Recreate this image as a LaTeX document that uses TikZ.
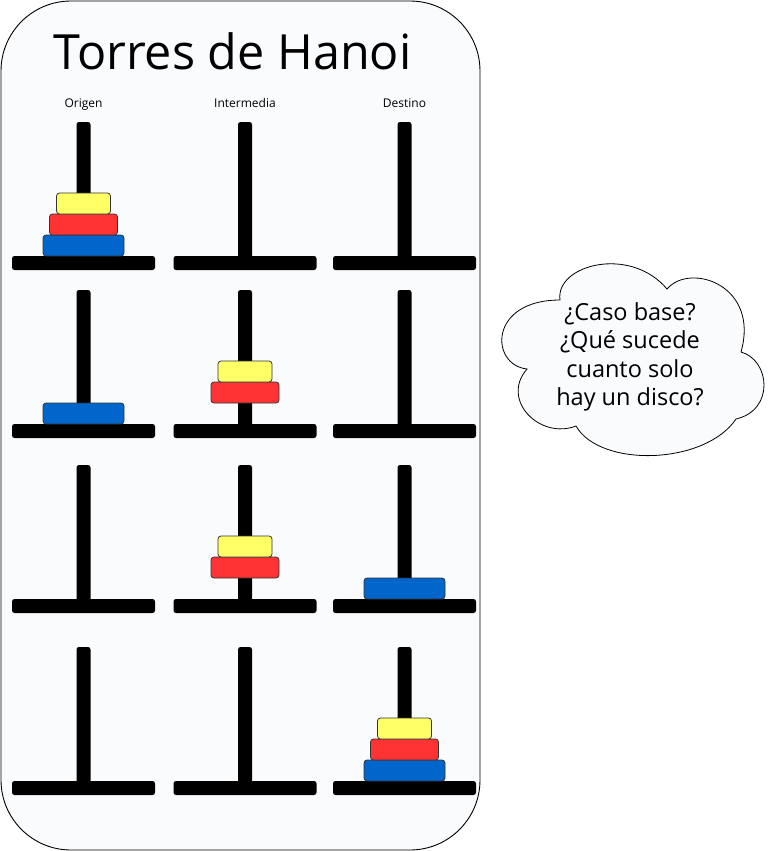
\documentclass[tikz,border=0pt]{standalone}
\usepackage{fontspec}
\setmainfont{Open Sans}
\definecolor{bgfill}{HTML}{FAFBFD}
\definecolor{dblue}{HTML}{0066CC}
\definecolor{dred}{HTML}{FF3333}
\definecolor{dyellow}{HTML}{FFFF66}
\definecolor{dedge}{HTML}{333333}
\tikzset{
  disk/.style={draw=dedge, line width=0.8pt, rounded corners=3pt, rectangle, minimum height=21pt, inner sep=0pt, outer sep=0pt},
  bluedisk/.style={disk, fill=dblue, minimum width=81pt},
  reddisk/.style={disk, fill=dred, minimum width=68pt},
  yellowdisk/.style={disk, fill=dyellow, minimum width=54pt},
  pole/.style={fill=black, rounded corners=2.5pt},
  towerbase/.style={fill=black, rounded corners=2.5pt},
  collabel/.style={font=\fontsize{12}{14}\selectfont, anchor=base, inner sep=0pt},
}
\begin{document}
\begin{tikzpicture}[x=1pt,y=-1pt]
\useasboundingbox (0,0) rectangle (776,851);
\draw[line width=0.9pt, fill=bgfill, rounded corners=70pt] (1,1) rectangle (480,850);
\node[anchor=base, inner sep=0pt, font=\fontsize{48.5}{56}\selectfont] (title) at (232.5,70) {Torres de Hanoi};
\node[collabel] (lorig) at (83.5,107) {Origen};
\node[collabel] (linter) at (245,107) {Intermedia};
\node[collabel] (ldest) at (404.5,107) {Destino};
% poles and bases
\foreach \yb [count=\r] in {256,424,599,781}{
  \foreach \cx [count=\c] in {83.5,245,404.5}{
    \fill[pole] (\cx-7,\yb-134) rectangle (\cx+7,\yb+2);
    \fill[towerbase] (\cx-71.5,\yb) rectangle (\cx+71.5,\yb+14);
  }
}
% disks: row 1
\node[bluedisk]   (b11) at (83.5,256-10.5) {};
\node[reddisk]    (r11) at (83.5,256-31.5) {};
\node[yellowdisk] (y11) at (83.5,256-52.5) {};
% row 2
\node[bluedisk]   (b21) at (83.5,424-10.5) {};
\node[reddisk]    (r22) at (245,424-31.5) {};
\node[yellowdisk] (y22) at (245,424-52.5) {};
% row 3
\node[reddisk]    (r32) at (245,599-31.5) {};
\node[yellowdisk] (y32) at (245,599-52.5) {};
\node[bluedisk]   (b33) at (404.5,599-10.5) {};
% row 4
\node[bluedisk]   (b43) at (404.5,781-10.5) {};
\node[reddisk]    (r43) at (404.5,781-31.5) {};
\node[yellowdisk] (y43) at (404.5,781-52.5) {};
% cloud
\coordinate (cA) at (560,300);
\coordinate (cB) at (667,289);
\coordinate (cC) at (741,352);
\coordinate (cD) at (736,419);
\coordinate (cE) at (576,426);
\coordinate (cF) at (527,369);
\draw[line width=0.8pt, fill=bgfill]
  (cA) .. controls (555,265) and (630,245) .. (cB)
       .. controls (690,262) and (760,285) .. (cC)
       .. controls (770,360) and (775,410) .. (cD)
       .. controls (705,465) and (600,468) .. (cE)
       .. controls (540,440) and (500,400) .. (cF)
       .. controls (490,365) and (488,300) .. (cA) -- cycle;
\node[align=center, font=\fontsize{23.5}{28.3}\selectfont, inner sep=0pt] (cloudtext) at (630,357)
  {¿Caso base?\\¿Qué sucede\\cuanto solo\\hay un disco?};
\end{tikzpicture}
\end{document}
